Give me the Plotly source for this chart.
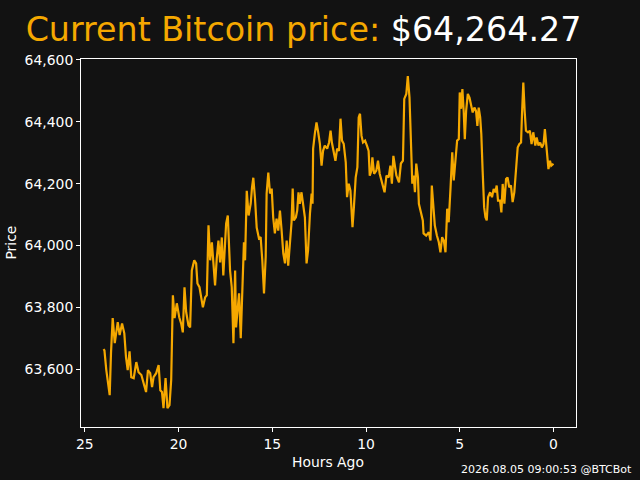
import plotly.graph_objects as go

# hours ago (x) and price in USD (y)
hours_ago = [
    24.0, 23.95, 23.85, 23.67, 23.60, 23.51, 23.40, 23.24, 23.14, 23.01,
    22.89, 22.80, 22.71, 22.61, 22.52, 22.39, 22.25, 22.13, 21.98, 21.86,
    21.73, 21.63, 21.51, 21.41, 21.33, 21.19, 21.06, 20.97, 20.88, 20.80,
    20.69, 20.59, 20.48, 20.39, 20.30, 20.21, 20.09, 19.96, 19.86, 19.77,
    19.68, 19.59, 19.47, 19.38, 19.29, 19.16, 19.06, 18.99, 18.88, 18.79,
    18.70, 18.58, 18.49, 18.40, 18.31, 18.22, 18.14, 18.05, 17.96, 17.87,
    17.78, 17.69, 17.61, 17.53, 17.46, 17.37, 17.30, 17.25, 17.16, 17.07,
    16.98, 16.93, 16.86, 16.77, 16.68, 16.60, 16.51, 16.45, 16.36, 16.26,
    16.15, 16.08, 16.01, 15.92, 15.83, 15.71, 15.62, 15.53, 15.44, 15.35,
    15.30, 15.21, 15.12, 15.03, 14.95, 14.86, 14.77, 14.68, 14.59, 14.50,
    14.41, 14.32, 14.23, 14.15, 14.06, 13.97, 13.91, 13.85, 13.74, 13.67,
    13.60, 13.53, 13.44, 13.35, 13.26, 13.17, 13.09, 12.99, 12.90, 12.85,
    12.82, 12.73, 12.64, 12.55, 12.46, 12.37, 12.29, 12.20, 12.07, 11.97,
    11.89, 11.82, 11.72, 11.63, 11.54, 11.44, 11.36, 11.28, 11.19, 11.08,
    11.01, 10.92, 10.83, 10.72, 10.64, 10.55, 10.46, 10.39, 10.32, 10.24,
    10.16, 10.05, 9.95, 9.86, 9.80, 9.71, 9.66, 9.57, 9.45, 9.36,
    9.27, 9.13, 9.01, 8.91, 8.79, 8.70, 8.62, 8.54, 8.47, 8.38,
    8.24, 8.14, 8.03, 7.96, 7.85, 7.77, 7.68, 7.61, 7.53, 7.46,
    7.39, 7.32, 7.23, 7.18, 7.11, 6.97, 6.93, 6.79, 6.65, 6.56,
    6.49, 6.40, 6.33, 6.22, 6.12, 6.03, 5.94, 5.85, 5.76, 5.67,
    5.59, 5.49, 5.40, 5.32, 5.23, 5.14, 5.05, 5.00, 4.93, 4.86,
    4.79, 4.73, 4.66, 4.57, 4.48, 4.39, 4.31, 4.22, 4.13, 4.06,
    3.99, 3.91, 3.85, 3.78, 3.70, 3.63, 3.56, 3.49, 3.38, 3.28,
    3.19, 3.10, 3.03, 2.96, 2.85, 2.78, 2.71, 2.62, 2.53, 2.45,
    2.36, 2.27, 2.18, 2.09, 2.00, 1.91, 1.82, 1.73, 1.68, 1.61,
    1.54, 1.47, 1.36, 1.26, 1.17, 1.08, 0.97, 0.90, 0.80, 0.71,
    0.62, 0.53, 0.46, 0.39, 0.32, 0.27, 0.19, 0.12, 0.0,
]

price = [
    63665, 63661, 63597, 63516, 63652, 63765, 63684, 63752, 63710, 63748,
    63716, 63639, 63597, 63658, 63574, 63571, 63623, 63590, 63581, 63558,
    63526, 63597, 63587, 63542, 63574, 63587, 63613, 63532, 63526, 63474,
    63571, 63474, 63484, 63565, 63839, 63765, 63813, 63768, 63748, 63719,
    63865, 63784, 63742, 63735, 63919, 63952, 63942, 63877, 63865, 63832,
    63800, 63832, 63839, 64065, 63952, 64010, 63942, 63871, 63958, 64016,
    63945, 64026, 63903, 64016, 64071, 64097, 63994, 63919, 63865, 63684,
    63919, 63735, 63784, 63845, 63700, 63887, 64010, 63952, 64177, 64097,
    64135, 64187, 64219, 64152, 64058, 64023, 64027, 63952, 63845, 63962,
    64168, 64236, 64168, 64184, 64091, 64039, 64087, 64048, 64113, 64048,
    63974, 63942, 64016, 63935, 63995, 64075, 64184, 64081, 64091, 64113,
    64172, 64135, 64172, 64135, 64091, 63942, 63984, 64103, 64168, 64135,
    64313, 64361, 64398, 64366, 64329, 64258, 64306, 64323, 64313, 64333,
    64371, 64333, 64306, 64274, 64313, 64306, 64410, 64339, 64329, 64269,
    64156, 64200, 64177, 64059, 64129, 64220, 64253, 64414, 64426, 64355,
    64333, 64339, 64323, 64306, 64226, 64242, 64285, 64232, 64242, 64274,
    64232, 64200, 64172, 64226, 64220, 64258, 64200, 64290, 64253, 64226,
    64204, 64265, 64274, 64474, 64490, 64548, 64478, 64329, 64200, 64226,
    64172, 64265, 64220, 64135, 64113, 64081, 64039, 64032, 64043, 64016,
    64194, 64124, 64065, 64032, 64011, 63978, 64027, 64016, 63978, 64119,
    64075, 64188, 64301, 64210, 64274, 64339, 64344, 64495, 64442, 64506,
    64435, 64344, 64435, 64490, 64478, 64452, 64430, 64446, 64435, 64387,
    64446, 64414, 64360, 64242, 64124, 64091, 64081, 64156, 64172, 64156,
    64183, 64172, 64194, 64145, 64145, 64107, 64199, 64135, 64215, 64220,
    64188, 64194, 64140, 64172, 64264, 64317, 64328, 64333, 64425, 64527,
    64436, 64371, 64366, 64371, 64328, 64366, 64323, 64349, 64323, 64333,
    64317, 64328, 64376, 64317, 64274, 64247, 64274, 64258, 64264.27,
]

current_price = "$64,264.27"
stamp = "2026.08.05 09:00:53 @BTCBot"

BG = "#121212"
ORANGE = "#F5A800"
FONT = "DejaVu Sans"

fig = go.Figure()
fig.add_trace(go.Scatter(x=hours_ago, y=price, mode="lines",
                         line=dict(color=ORANGE, width=2.2), showlegend=False))

axis_style = dict(showline=True, mirror=True, linecolor="white", linewidth=1,
                  ticks="outside", ticklen=4, tickcolor="white",
                  showgrid=False, zeroline=False,
                  tickfont=dict(family=FONT, size=13.9, color="white"))

fig.update_layout(
    width=640, height=480,
    paper_bgcolor=BG, plot_bgcolor=BG,
    margin=dict(l=80.5, r=64, t=58.5, b=53),
    font=dict(family=FONT, color="white"),
    title=dict(text=f"<span style='color:{ORANGE}'>Current Bitcoin price: </span>"
                    f"<span style='color:white'>{current_price}</span>",
               x=303.5 / 640, xanchor="center", y=1 - 29 / 480, yanchor="middle",
               font=dict(family=FONT, size=33.3)),
    xaxis=dict(range=[25.2, -1.2], tickvals=[25, 20, 15, 10, 5, 0], **axis_style),
    yaxis=dict(range=[63413, 64603], tick0=63600, dtick=200, tickformat=",",
               **axis_style),
)

annotations = []
annotations.append(dict(xref="paper", yref="paper", x=(328 - 80.5) / 495.5,
                        y=(427 - 462) / 368.5, xanchor="center", yanchor="middle",
                        text="Hours Ago", showarrow=False,
                        font=dict(family=FONT, size=13.9, color="white")))
annotations.append(dict(xref="paper", yref="paper", x=(10 - 80.5) / 495.5,
                        y=0.5, xanchor="center", yanchor="middle", textangle=-90,
                        text="Price", showarrow=False,
                        font=dict(family=FONT, size=13.9, color="white")))
annotations.append(dict(xref="paper", yref="paper", x=(634 - 80.5) / 495.5,
                        y=(427 - 470) / 368.5, xanchor="right", yanchor="middle",
                        text=stamp, showarrow=False,
                        font=dict(family=FONT, size=11, color="white")))
fig.update_layout(annotations=annotations)

# page body has a default 8px margin; drop it so the figure sits at 0,0
fig.write_html("out.html", config={"displayModeBar": False},
               post_script="document.body.style.margin='0';"
                           "document.body.style.overflow='hidden';")
